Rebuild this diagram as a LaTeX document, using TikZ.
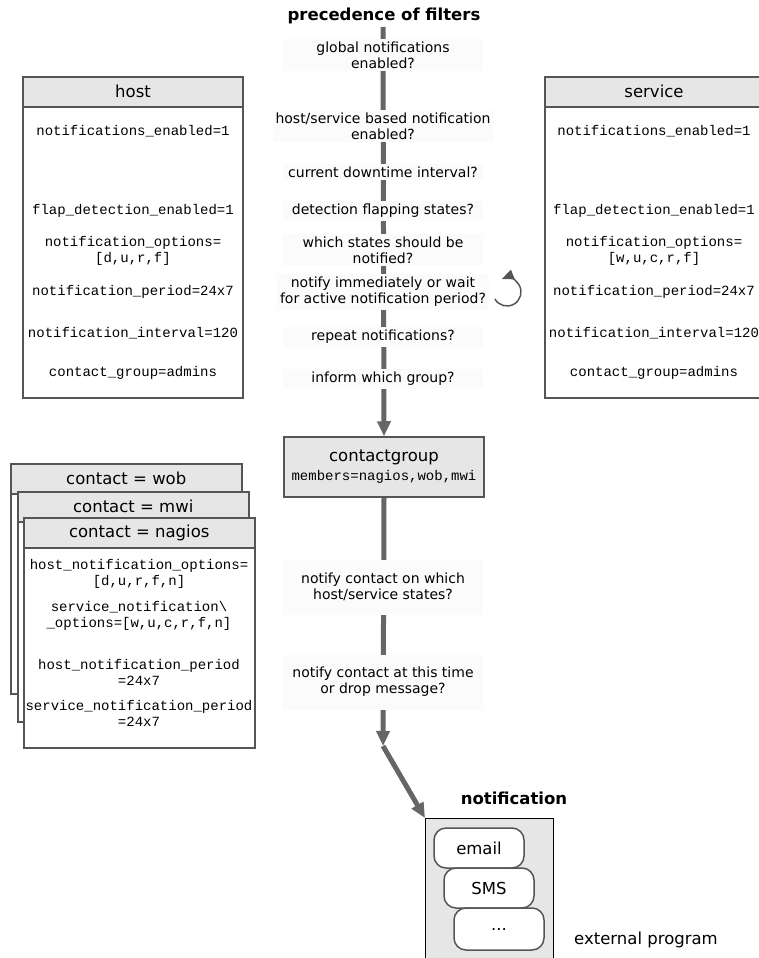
\documentclass[tikz,border=0pt]{standalone}
\usepackage{fontspec}
\setmainfont{DejaVu Sans}
\setmonofont{Liberation Mono}
\usepackage{tikz}
\usetikzlibrary{arrows.meta, positioning, calc}

\definecolor{flowgray}{HTML}{666666}
\definecolor{edgegray}{HTML}{555555}
\definecolor{headgray}{HTML}{E6E6E6}
\definecolor{filterbg}{HTML}{FBFBFB}

\tikzset{
  flow/.style={line width=5pt, flowgray, -{Triangle[length=15pt,width=13pt]}},
  filter/.style={fill=filterbg, align=center, minimum width=200pt, inner xsep=3pt, inner ysep=3pt,
    font=\fontsize{14}{16}\selectfont},
  headbox/.style={draw=edgegray, line width=1.5pt, fill=headgray, minimum height=30pt,
    font=\fontsize{16.5}{19}\selectfont},
  bodybox/.style={draw=edgegray, line width=1.5pt, fill=white},
  conf/.style={align=center, font=\fontsize{14}{16}\selectfont\ttfamily},
  channel/.style={draw=edgegray, line width=1.5pt, fill=white, rounded corners=12pt,
    minimum width=90pt, minimum height=40pt, font=\fontsize{16.5}{19}\selectfont},
  heading/.style={font=\fontsize{16.5}{19}\selectfont\bfseries}
}

\begin{document}
\begin{tikzpicture}[x=1pt, y=-1pt]
  \useasboundingbox (0,0) rectangle (758,958);

  % Title and main chain of filters
  \node[heading] (title) at (384,16) {precedence of filters};
  \coordinate (start) at (383,27);
  \node[headbox, minimum width=200pt, minimum height=60pt, align=center] (group) at (384,467)
    {contactgroup\\{\fontsize{14}{16}\selectfont\ttfamily members=nagios,wob,mwi}};
  \draw[flow] (start) -- (group.north);

  \node[filter] (f1) at (383,55) {global notifications\\enabled?};
  \node[filter] (f2) at (383,126) {host/service based notification\\enabled?};
  \node[filter] (f3) at (383,172) {current downtime interval?};
  \node[filter] (f4) at (383,211) {detection flapping states?};
  \node[filter] (f5) at (383,250) {which states should be\\notified?};
  \node[filter] (f6) at (383,292) {notify immediately or wait\\for active notification period?};
  \node[filter] (f7) at (383,337) {repeat notifications?};
  \node[filter] (f8) at (383,379) {inform which group?};

  % Waiting loop
  \coordinate (loopc) at (507,292);
  \draw[edgegray, line width=1.5pt, -{Triangle[length=12pt,width=10pt]}]
    ($(loopc)+(150:14)$) arc (150:-112:14);

  % Host and service definitions
  \foreach \nm/\cx/\w/\opts in {host/133/220/{[d,u,r,f]}, service/654/218/{[w,u,c,r,f]}} {
    \node[bodybox, minimum width=\w pt, minimum height=321pt, anchor=north] (\nm body) at (\cx,76) {};
    \node[headbox, minimum width=\w pt, anchor=north] (\nm) at (\cx,76) {\nm};
    \node[conf] at (\cx,131) {notifications\_enabled=1};
    \node[conf] at (\cx,211) {flap\_detection\_enabled=1};
    \node[conf] at (\cx,251) {notification\_options=\\{\opts}};
    \node[conf] at (\cx,292) {notification\_period=24x7};
    \node[conf] at (\cx,333) {notification\_interval=120};
    \node[conf] at (\cx,373) {contact\_group=admins};
  }

  % Stack of contacts
  \foreach \nm/\dx/\dy in {wob/0/0, mwi/7/28, nagios/13/54} {
    \node[bodybox, minimum width=231pt, minimum height=230pt, anchor=north west] (\nm body)
      at (10+\dx,463+\dy) {};
    \node[headbox, minimum width=231pt, anchor=north west] (\nm) at (10+\dx,463+\dy) {contact = \nm};
  }
  \node[conf] at (139,574) {host\_notification\_options=\\{[d,u,r,f,n]}};
  \node[conf] at (139,616) {service\_notification\textbackslash\\\_options=[w,u,c,r,f,n]};
  \node[conf] at (139,672) {host\_notification\_period\\=24x7};
  \node[conf] at (139,713) {service\_notification\_period\\=24x7};

  % Filters per contact
  \coordinate (bend) at (383,746);
  \draw[flow] (group.south) -- (bend);
  \node[filter, minimum height=55pt] (c1) at (383,587) {notify contact on which\\host/service states?};
  \node[filter, minimum height=55pt] (c2) at (383,682) {notify contact at this time\\or drop message?};

  % Notification programs
  \node[heading] (nhead) at (514,798) {notification};
  \node[draw=black, line width=1pt, fill=headgray, minimum width=128pt, minimum height=150pt,
    anchor=north west] (notif) at (425,818) {};
  \draw[flow] (bend) -- (notif.north west);
  \node[channel] (email) at (479,848) {email};
  \node[channel] (sms) at (489,888) {SMS};
  \node[channel, minimum height=42pt] (more) at (499,929) {...};
  \node[font=\fontsize{16.5}{19}\selectfont] (ext) at (646,940) {external program};
\end{tikzpicture}
\end{document}
